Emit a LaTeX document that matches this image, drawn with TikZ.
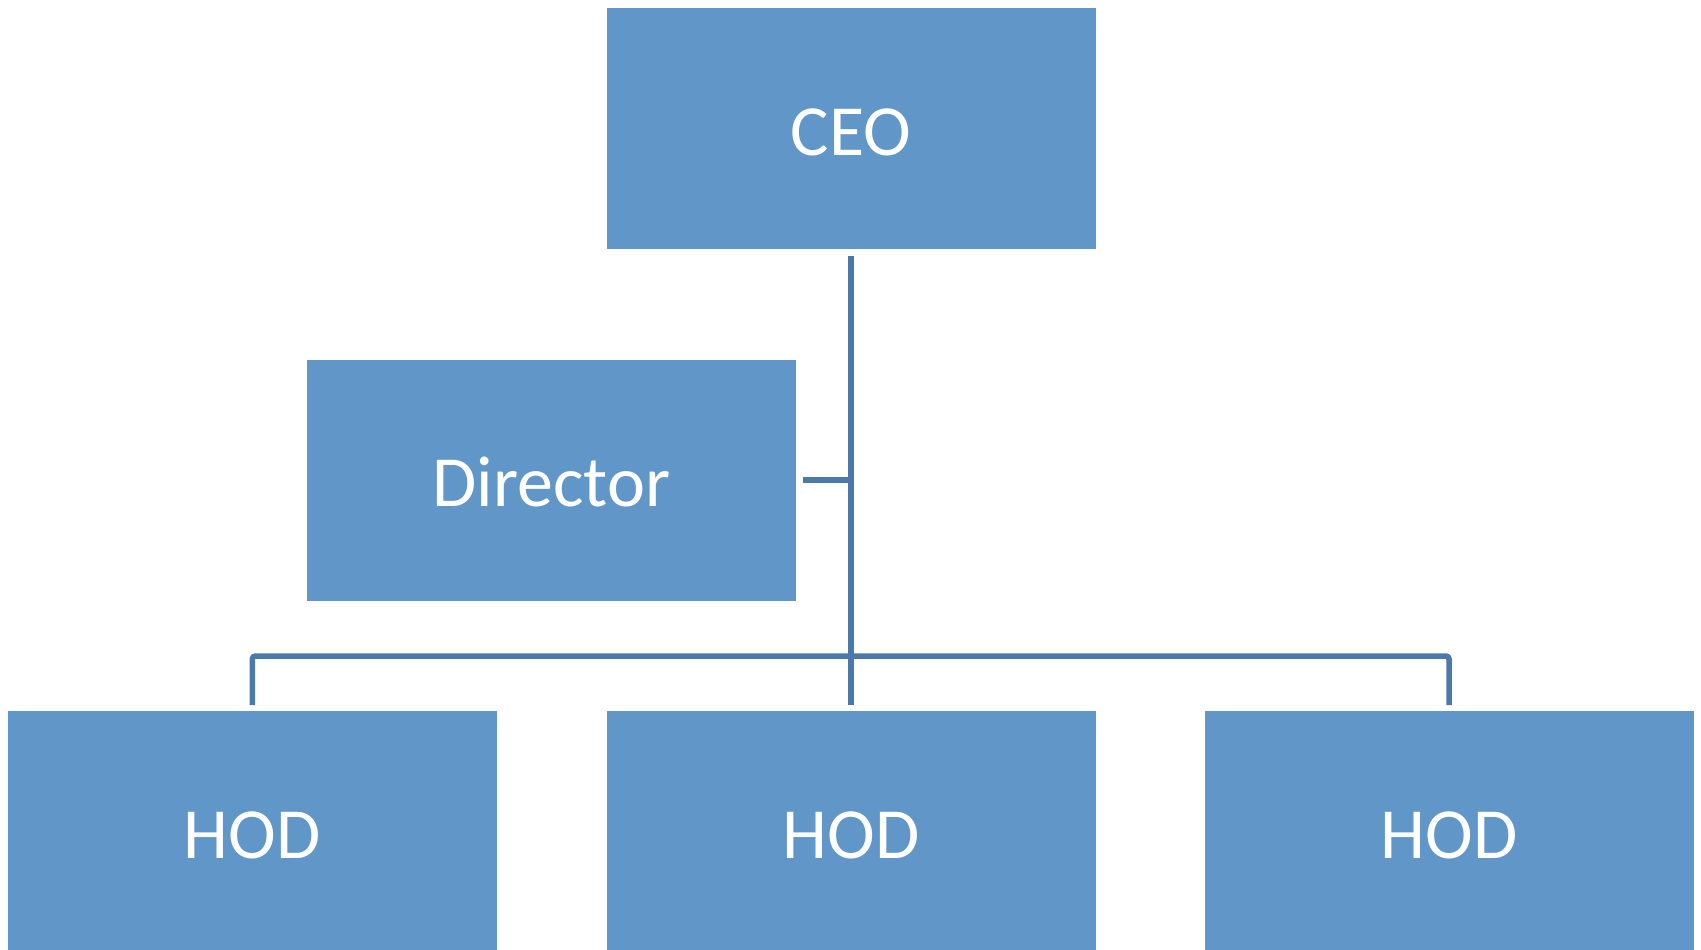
\documentclass[tikz,border=0pt]{standalone}
\usepackage{fontspec}
\setmainfont{Carlito}
\definecolor{boxblue}{HTML}{6196C9}
\definecolor{lineblue}{HTML}{4A79AA}
\begin{document}
\begin{tikzpicture}[x=1pt,y=-1pt]
    \tikzstyle{post}=[rectangle,fill=boxblue,draw=white,line width=1pt,minimum width=490pt,minimum height=242pt,inner sep=0pt,text height=53pt,text depth=0pt,text=white,font=\fontsize{72}{86}\selectfont]
    \tikzstyle{link}=[draw=lineblue,line width=5.5pt,rounded corners=3pt]
    \useasboundingbox (0,0) rectangle (1701,950);

    \node[post] (CEO) at (851,128.5) {CEO};
    \node[post] (Director) at (551.5,480) {Director};
    \foreach \num/\x in {1/252.3, 2/851, 3/1449}
        \node[post] (HOD-\num) at (\x,831.6) {HOD};

    \coordinate (bus) at (850.7,656);
    \draw[link] (CEO.south |- 0,256) -- ([yshift=5pt]HOD-2.north);
    \draw[link] ([xshift=6pt]Director.east) -- (Director.east -| bus);
    \draw[link] ([yshift=5pt]HOD-1.north) |- (bus) -| ([yshift=5pt]HOD-3.north);
\end{tikzpicture}
\end{document}
